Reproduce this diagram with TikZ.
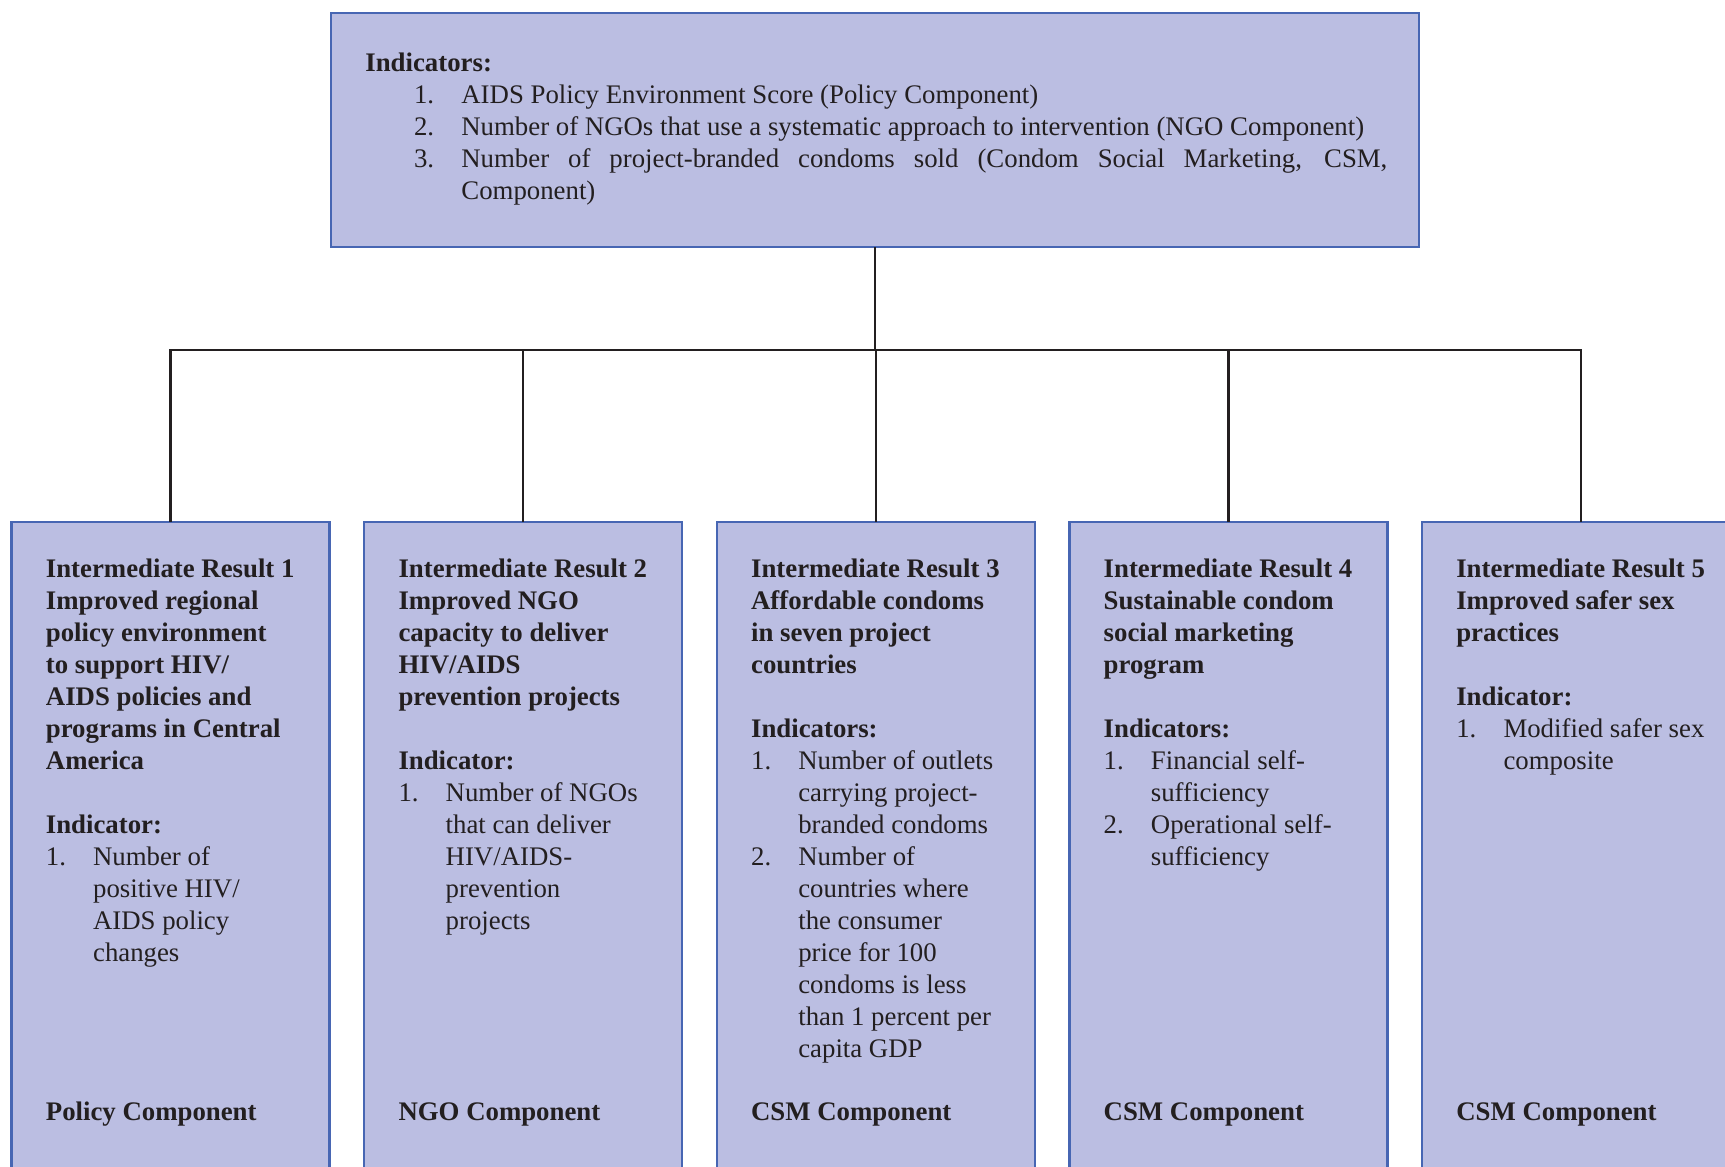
\documentclass[tikz,border=0pt]{standalone}
\usepackage{fontspec}
\setmainfont{Liberation Serif}
\usetikzlibrary{positioning}
\definecolor{boxfill}{HTML}{BBBEE2}
\definecolor{boxline}{HTML}{4766B3}
\definecolor{linkline}{HTML}{231F20}
\newcommand{\irnum}[1]{\makebox[23.6pt][l]{#1}}
\newcommand{\irind}{\hspace*{23.6pt}}
\newcommand{\goalnum}[1]{\hspace*{24.3pt}\makebox[23.7pt][l]{#1}}

\begin{document}
\begin{tikzpicture}[
  irbox/.style={draw=boxline, fill=boxfill, line width=1.2pt, minimum width=159pt, minimum height=345pt, inner sep=0pt, outer sep=0pt},
  goalbox/.style={draw=boxline, fill=boxfill, line width=1.2pt, minimum width=544pt, minimum height=117pt, inner sep=0pt, outer sep=0pt},
  boxtext/.style={anchor=base west, inner sep=0pt, text=linkline, font=\fontsize{13.4pt}{16pt}\selectfont},
  comptext/.style={boxtext, font=\fontsize{13.4pt}{16pt}\selectfont\bfseries},
  link/.style={draw=linkline, line width=1.2pt},
]
	\useasboundingbox (0,0) rectangle (862.5pt,-583.5pt);

	% goal box
	\node[goalbox, anchor=north west] (goal) at (165.5pt,-6.5pt) {};
	\node[boxtext] (goalt) at ([xshift=17pt,yshift=-29.3pt]goal.north west) {\parbox[t]{530pt}{%
		\textbf{Indicators:}\\
		\goalnum{1.}AIDS Policy Environment Score (Policy Component)\\
		\goalnum{2.}Number of NGOs that use a systematic approach to intervention (NGO Component)\\
		\goalnum{3.}\makebox[463pt][s]{Number of project-branded condoms sold (Condom Social Marketing, CSM,}\\
		\hspace*{48pt}Component)}};

	% intermediate results
	\node[irbox, anchor=north] (ir1) at (85.25pt,-261pt) {};
	\node[irbox, right=17.3pt of ir1] (ir2) {};
	\node[irbox, right=17.3pt of ir2] (ir3) {};
	\node[irbox, right=17.3pt of ir3] (ir4) {};
	\node[irbox, right=17.3pt of ir4] (ir5) {};

	\node[boxtext] (ir1t) at ([xshift=17pt,yshift=-27.5pt]ir1.north west) {\parbox[t]{140pt}{%
		\textbf{Intermediate Result 1}\\
		\textbf{Improved regional}\\
		\textbf{policy environment}\\
		\textbf{to support HIV/}\\
		\textbf{AIDS policies and}\\
		\textbf{programs in Central}\\
		\textbf{America}\\[16pt]
		\textbf{Indicator:}\\
		\irnum{1.}Number of\\
		\irind positive HIV/\\
		\irind AIDS policy\\
		\irind changes}};
	\node[boxtext] (ir2t) at ([xshift=17pt,yshift=-27.5pt]ir2.north west) {\parbox[t]{140pt}{%
		\textbf{Intermediate Result 2}\\
		\textbf{Improved NGO}\\
		\textbf{capacity to deliver}\\
		\textbf{HIV/AIDS}\\
		\textbf{prevention projects}\\[16pt]
		\textbf{Indicator:}\\
		\irnum{1.}Number of NGOs\\
		\irind that can deliver\\
		\irind HIV/AIDS-\\
		\irind prevention\\
		\irind projects}};
	\node[boxtext] (ir3t) at ([xshift=17pt,yshift=-27.5pt]ir3.north west) {\parbox[t]{140pt}{%
		\textbf{Intermediate Result 3}\\
		\textbf{Affordable condoms}\\
		\textbf{in seven project}\\
		\textbf{countries}\\[16pt]
		\textbf{Indicators:}\\
		\irnum{1.}Number of outlets\\
		\irind carrying project-\\
		\irind branded condoms\\
		\irnum{2.}Number of\\
		\irind countries where\\
		\irind the consumer\\
		\irind price for 100\\
		\irind condoms is less\\
		\irind than 1 percent per\\
		\irind capita GDP}};
	\node[boxtext] (ir4t) at ([xshift=17pt,yshift=-27.5pt]ir4.north west) {\parbox[t]{140pt}{%
		\textbf{Intermediate Result 4}\\
		\textbf{Sustainable condom}\\
		\textbf{social marketing}\\
		\textbf{program}\\[16pt]
		\textbf{Indicators:}\\
		\irnum{1.}Financial self-\\
		\irind sufficiency\\
		\irnum{2.}Operational self-\\
		\irind sufficiency}};
	\node[boxtext] (ir5t) at ([xshift=17pt,yshift=-27.5pt]ir5.north west) {\parbox[t]{140pt}{%
		\textbf{Intermediate Result 5}\\
		\textbf{Improved safer sex}\\
		\textbf{practices}\\[16pt]
		\textbf{Indicator:}\\
		\irnum{1.}Modified safer sex\\
		\irind composite}};

	\foreach \i/\c in {1/Policy,2/NGO,3/CSM,4/CSM,5/CSM}
		\node[comptext] (comp\i) at ([xshift=17pt,yshift=-299.3pt]ir\i.north west) {\c{} Component};

	% connectors
	\coordinate (hub) at ([yshift=-51.5pt]goal.south);
	\draw[link] (goal.south) -- (hub);
	\foreach \i in {1,...,5}
		\draw[link] (hub) -| (ir\i.north);
\end{tikzpicture}
\end{document}
